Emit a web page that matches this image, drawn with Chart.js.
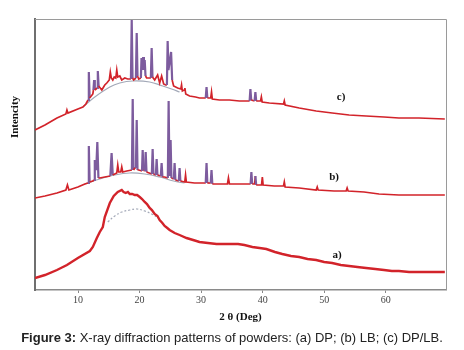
<!DOCTYPE html>
<html lang="en-US">
<head>
  <meta charset="utf-8">
  <title>XRD patterns | Chart.js</title>
  <script src="https://cdn.jsdelivr.net/npm/chart.js@4/dist/chart.umd.min.js"></script>
  <style>
    body { margin: 0; background: #fff; }
    .wrapper { position: relative; width: 464px; height: 350px; }
    .caption {
      position: absolute; left: 0; top: 330px; width: 464px;
      text-align: center; font: 13px "Liberation Sans", Arial, sans-serif; color: #222;
    }
  </style>
</head>
<body>
  <div class="wrapper">
    <canvas id="chart-0" width="464" height="350"></canvas>
    <div class="caption"><b>Figure 3:</b> X-ray diffraction patterns of powders: (a) DP; (b) LB; (c) DP/LB.</div>
  </div>

  <script>
    // 2θ (deg) and intensity (arbitrary, stacked offsets)
    let dpTheta = [3.00,4.62,6.57,8.19,9.97,11.91,12.40,13.05,13.53,14.02,14.34,15.16,15.80,16.45,17.10,17.40,17.75,18.10,18.40,18.80,19.21,19.60,20.02,20.40,20.83,21.20,21.64,22.00,22.45,22.90,23.26,23.70,24.07,24.50,24.88,25.70,26.50,27.63,28.70,29.74,31.10,32.50,33.80,35.09,36.00,37.03,38.33,39.50,40.60,42.00,43.19,44.60,45.95,47.30,48.70,50.00,51.30,52.70,54.05,55.40,56.81,58.30,59.72,61.00,62.15,63.80,65.40,67.50,69.61];
    let dpCounts = [12,15,20,25,32,39,43,52,58,63,73,87,94,98,100,98,97,98,96,96,95,95,93,91,88,86,82,80,76,74,70,67,64,62,60,57,55,52,50,48,47,46,46,46,46,45,43,42,41,38,36,34,33,31,30,28,27,25,24,23,22,21,20,19,19,18,18,18,18];

    let lbTheta = [3.00,4.62,6.57,8.02,8.27,8.51,9.97,11.10,11.62,11.75,11.88,12.40,12.59,12.72,12.95,13.13,13.31,13.53,14.34,15.24,15.45,15.64,16.29,16.45,16.61,16.94,17.10,17.26,17.91,18.75,18.88,19.01,19.21,19.40,19.53,19.66,19.86,20.39,20.50,20.63,20.86,20.99,21.12,21.99,22.12,22.25,22.64,22.77,22.90,23.45,23.58,23.71,24.07,24.59,24.72,24.85,25.04,25.17,25.56,25.69,25.82,26.37,26.50,26.63,27.34,27.47,27.60,28.93,30.75,30.88,31.01,31.56,31.69,31.82,32.98,34.28,34.44,34.60,36.22,38.04,38.17,38.30,38.69,38.82,38.95,39.82,39.95,40.08,41.90,43.39,43.52,43.65,45.95,48.70,48.87,49.02,51.61,53.57,53.73,53.89,56.48,58.91,62.15,65.40,69.61];
    let lbCounts = [92,94,97,100,105,100,103,106,107,144,108,109,110,130,120,148,112,112,113,114,137,115,117,125,118,118,123,118,119,120,191,120,122,122,170,120,120,119,140,120,119,138,118,116,141,116,115,131,115,114,127,113,113,112,189,114,150,112,111,127,110,109,122,109,108,115,108,107,107,127,107,107,120,106,106,106,112,106,106,106,118,106,106,114,105,105,113,105,104,104,108,103,102,100,103,100,99,99,102,99,98,96,95,95,95];

    let mixTheta = [3.00,4.62,6.57,8.02,8.19,8.35,9.97,10.78,11.27,11.62,11.75,11.88,12.40,12.50,12.61,12.72,13.10,13.21,13.34,13.86,14.34,14.67,15.07,15.24,15.40,15.64,15.88,16.13,16.29,16.45,16.78,17.10,17.59,18.07,18.59,18.72,18.85,19.04,19.40,19.53,19.66,19.86,20.21,20.31,20.44,20.57,20.70,20.83,20.96,21.15,21.83,21.96,22.09,22.45,22.93,23.26,23.58,23.91,24.23,24.44,24.56,24.69,25.12,25.29,25.53,26.18,26.70,26.82,26.95,27.23,27.36,27.50,28.12,29.09,29.74,30.75,30.88,31.01,31.56,31.69,31.82,32.98,34.60,36.22,37.88,38.01,38.14,38.69,38.82,38.95,39.66,39.79,39.92,41.09,43.39,43.52,43.65,45.95,48.70,51.30,54.05,56.81,59.72,62.15,65.40,69.61];
    let mixCounts = [160,165,172,176,180,177,181,183,186,190,218,192,196,200,210,200,202,219,204,200,205,207,210,218,212,210,213,212,220,213,214,210,212,211,211,270,212,210,212,257,214,211,212,232,220,233,220,230,214,212,212,242,213,210,215,207,214,206,205,205,249,220,238,210,204,202,201,205,199,200,202,196,194,193,192,192,203,192,192,198,191,190,190,189,189,201,190,189,198,189,189,193,188,187,186,189,185,182,179,177,175,174,173,172,172,171];

    // amorphous halos (grey fitted backgrounds)
    let dpHaloTheta = [14.83,15.96,17.10,18.40,19.53,20.83,21.96,23.26];
    let dpHaloCounts = [68,74,78,80,81,79,76,71];
    let lbHaloTheta = [11.10,13.53,15.96,18.40,20.83,23.26,25.52,27.30];
    let lbHaloCounts = [106,111,115,117,116,113,109,107];
    let mixHaloTheta = [10.78,12.72,15.16,16.78,18.88,21.64,23.75,25.20,26.50];
    let mixHaloCounts = [183,193,203,207,209,208,204,201,198];

    let xTicks = [10, 20, 30, 40, 50, 60];
    let curveLabels = ['a)', 'b)', 'c)'];
    let curveLabelTheta = [52.1, 51.6, 52.75];
    let curveLabelCounts = [35, 113, 193];

    let red = '#d2232a';
    let purple = '#7d5c9e';
    let halo = '#a3a9b8';
    let serif = '"Liberation Serif", "DejaVu Serif", serif';

    function toPoints(xs, ys) {
      return xs.map(function(x, i) { return {x: x, y: ys[i]}; });
    }

    function isPeak(ctx) {
      return Math.abs(ctx.p1.parsed.y - ctx.p0.parsed.y) > 8;
    }

    function trace(xs, ys, width, peaks) {
      let ds = {
        data: toPoints(xs, ys),
        borderColor: red,
        borderWidth: width,
        pointRadius: 0,
        showLine: true,
        tension: 0,
        order: 1
      };
      if (peaks) {
        ds.segment = {
          borderColor: function(ctx) { return isPeak(ctx) ? purple : red; },
          borderWidth: function(ctx) { return isPeak(ctx) ? 2.2 : width; }
        };
      }
      return ds;
    }

    function background(xs, ys, dashed) {
      return {
        data: toPoints(xs, ys),
        borderColor: halo,
        borderWidth: 1.2,
        borderDash: dashed ? [2, 2] : [],
        pointRadius: 0,
        showLine: true,
        tension: 0.4,
        order: 2
      };
    }

    let extras = {
      id: 'extras',
      afterDatasetsDraw: function(chart) {
        let ctx = chart.ctx;
        let area = chart.chartArea;
        let xs = chart.scales.x, ys = chart.scales.y;
        ctx.save();
        // frame
        ctx.strokeStyle = '#9a9a9a';
        ctx.lineWidth = 1;
        ctx.beginPath();
        ctx.moveTo(area.left, area.top + 0.5);
        ctx.lineTo(area.right + 0.5, area.top + 0.5);
        ctx.lineTo(area.right + 0.5, area.bottom);
        ctx.stroke();
        // curve labels
        ctx.fillStyle = '#111';
        ctx.font = 'bold 11px ' + serif;
        ctx.textAlign = 'center';
        ctx.textBaseline = 'middle';
        curveLabels.forEach(function(t, i) {
          ctx.fillText(t, xs.getPixelForValue(curveLabelTheta[i]), ys.getPixelForValue(curveLabelCounts[i]));
        });
        // y title
        ctx.translate(15, area.top + 98);
        ctx.rotate(-Math.PI / 2);
        ctx.fillText('Intencity', 0, 0);
        ctx.restore();
      }
    };

    let chart = new Chart('chart-0', {
      type: 'scatter',
      data: {
        datasets: [
          trace(dpTheta, dpCounts, 2.4, false),
          trace(lbTheta, lbCounts, 1.7, true),
          trace(mixTheta, mixCounts, 1.7, true),
          background(dpHaloTheta, dpHaloCounts, true),
          background(lbHaloTheta, lbHaloCounts, false),
          background(mixHaloTheta, mixHaloCounts, false)
        ]
      },
      options: {
        responsive: false,
        animation: false,
        layout: {
          padding: {top: 19, right: 18, left: 0, bottom: 0}
        },
        plugins: {
          legend: {display: false},
          tooltip: {enabled: false}
        },
        scales: {
          x: {
            type: 'linear',
            min: 3,
            max: 69.8,
            afterBuildTicks: function(scale) {
              scale.ticks = xTicks.map(function(v) { return {value: v}; });
            },
            afterFit: function(scale) { scale.height = 60; },
            ticks: {
              padding: 1,
              color: '#444',
              font: {family: serif, size: 10}
            },
            grid: {
              drawOnChartArea: false,
              tickLength: 3,
              color: '#888'
            },
            border: {color: '#8a8a8a', width: 1.5},
            title: {
              display: true,
              text: '2 θ (Deg)',
              color: '#111',
              font: {family: serif, size: 11, weight: 'bold'},
              padding: {top: 0, bottom: 26}
            }
          },
          y: {
            min: 0,
            max: 271,
            afterFit: function(scale) { scale.width = 35; },
            ticks: {display: false},
            grid: {display: false},
            border: {color: '#6f6f6f', width: 2}
          }
        }
      },
      plugins: [extras]
    });
  </script>
</body>
</html>
